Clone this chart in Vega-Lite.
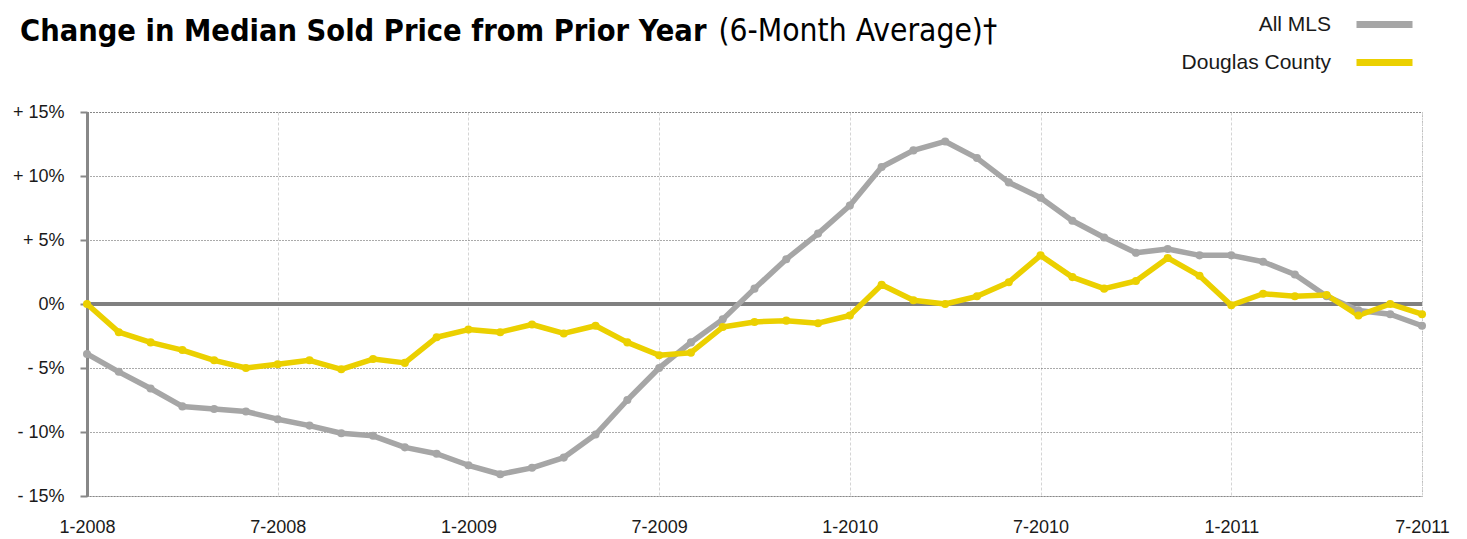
{
  "$schema": "https://vega.github.io/schema/vega-lite/v6.json",
  "width": 1335,
  "height": 384,
  "autosize": {"type": "none"},
  "padding": {"left": 87, "top": 112, "right": 45, "bottom": 43},
  "background": "white",
  "title": {
    "text": "Change in Median Sold Price from Prior Year",
    "anchor": "start",
    "frame": "group",
    "font": "DejaVu Sans Condensed, Liberation Sans Narrow, sans-serif",
    "fontWeight": "bold",
    "fontSize": 30.5,
    "color": "#000",
    "baseline": "alphabetic",
    "dx": -67,
    "offset": -64
  },
  "config": {
    "view": {"stroke": "#777", "strokeDash": [1, 2], "strokeWidth": 1},
    "font": "Liberation Sans"
  },
  "data": {
    "values": [
      {"m":"1-2008","s":"All MLS","v":-3.9},{"m":"2-2008","s":"All MLS","v":-5.3},{"m":"3-2008","s":"All MLS","v":-6.6},{"m":"4-2008","s":"All MLS","v":-8.0},{"m":"5-2008","s":"All MLS","v":-8.2},{"m":"6-2008","s":"All MLS","v":-8.4},{"m":"7-2008","s":"All MLS","v":-9.0},{"m":"8-2008","s":"All MLS","v":-9.5},{"m":"9-2008","s":"All MLS","v":-10.1},{"m":"10-2008","s":"All MLS","v":-10.3},{"m":"11-2008","s":"All MLS","v":-11.2},{"m":"12-2008","s":"All MLS","v":-11.7},
      {"m":"1-2009","s":"All MLS","v":-12.6},{"m":"2-2009","s":"All MLS","v":-13.3},{"m":"3-2009","s":"All MLS","v":-12.8},{"m":"4-2009","s":"All MLS","v":-12.0},{"m":"5-2009","s":"All MLS","v":-10.2},{"m":"6-2009","s":"All MLS","v":-7.5},{"m":"7-2009","s":"All MLS","v":-5.0},{"m":"8-2009","s":"All MLS","v":-3.0},{"m":"9-2009","s":"All MLS","v":-1.2},{"m":"10-2009","s":"All MLS","v":1.2},{"m":"11-2009","s":"All MLS","v":3.5},{"m":"12-2009","s":"All MLS","v":5.5},
      {"m":"1-2010","s":"All MLS","v":7.7},{"m":"2-2010","s":"All MLS","v":10.7},{"m":"3-2010","s":"All MLS","v":12.0},{"m":"4-2010","s":"All MLS","v":12.7},{"m":"5-2010","s":"All MLS","v":11.4},{"m":"6-2010","s":"All MLS","v":9.5},{"m":"7-2010","s":"All MLS","v":8.3},{"m":"8-2010","s":"All MLS","v":6.5},{"m":"9-2010","s":"All MLS","v":5.2},{"m":"10-2010","s":"All MLS","v":4.0},{"m":"11-2010","s":"All MLS","v":4.3},{"m":"12-2010","s":"All MLS","v":3.8},
      {"m":"1-2011","s":"All MLS","v":3.8},{"m":"2-2011","s":"All MLS","v":3.3},{"m":"3-2011","s":"All MLS","v":2.3},{"m":"4-2011","s":"All MLS","v":0.6},{"m":"5-2011","s":"All MLS","v":-0.5},{"m":"6-2011","s":"All MLS","v":-0.8},{"m":"7-2011","s":"All MLS","v":-1.7},
      {"m":"1-2008","s":"Douglas County","v":0.0},{"m":"2-2008","s":"Douglas County","v":-2.2},{"m":"3-2008","s":"Douglas County","v":-3.0},{"m":"4-2008","s":"Douglas County","v":-3.6},{"m":"5-2008","s":"Douglas County","v":-4.4},{"m":"6-2008","s":"Douglas County","v":-5.0},{"m":"7-2008","s":"Douglas County","v":-4.7},{"m":"8-2008","s":"Douglas County","v":-4.4},{"m":"9-2008","s":"Douglas County","v":-5.1},{"m":"10-2008","s":"Douglas County","v":-4.3},{"m":"11-2008","s":"Douglas County","v":-4.6},{"m":"12-2008","s":"Douglas County","v":-2.6},
      {"m":"1-2009","s":"Douglas County","v":-2.0},{"m":"2-2009","s":"Douglas County","v":-2.2},{"m":"3-2009","s":"Douglas County","v":-1.6},{"m":"4-2009","s":"Douglas County","v":-2.3},{"m":"5-2009","s":"Douglas County","v":-1.7},{"m":"6-2009","s":"Douglas County","v":-3.0},{"m":"7-2009","s":"Douglas County","v":-4.0},{"m":"8-2009","s":"Douglas County","v":-3.8},{"m":"9-2009","s":"Douglas County","v":-1.8},{"m":"10-2009","s":"Douglas County","v":-1.4},{"m":"11-2009","s":"Douglas County","v":-1.3},{"m":"12-2009","s":"Douglas County","v":-1.5},
      {"m":"1-2010","s":"Douglas County","v":-0.9},{"m":"2-2010","s":"Douglas County","v":1.5},{"m":"3-2010","s":"Douglas County","v":0.3},{"m":"4-2010","s":"Douglas County","v":0.0},{"m":"5-2010","s":"Douglas County","v":0.6},{"m":"6-2010","s":"Douglas County","v":1.7},{"m":"7-2010","s":"Douglas County","v":3.8},{"m":"8-2010","s":"Douglas County","v":2.1},{"m":"9-2010","s":"Douglas County","v":1.2},{"m":"10-2010","s":"Douglas County","v":1.8},{"m":"11-2010","s":"Douglas County","v":3.6},{"m":"12-2010","s":"Douglas County","v":2.2},
      {"m":"1-2011","s":"Douglas County","v":-0.1},{"m":"2-2011","s":"Douglas County","v":0.8},{"m":"3-2011","s":"Douglas County","v":0.6},{"m":"4-2011","s":"Douglas County","v":0.7},{"m":"5-2011","s":"Douglas County","v":-0.9},{"m":"6-2011","s":"Douglas County","v":0.0},{"m":"7-2011","s":"Douglas County","v":-0.8}
    ]
  },
  "encoding": {
    "x": {
      "field": "m",
      "type": "ordinal",
      "sort": null,
      "scale": {"type": "point", "padding": 0},
      "axis": {
        "title": null,
        "values": ["1-2008","7-2008","1-2009","7-2009","1-2010","7-2010","1-2011","7-2011"],
        "labelAngle": 0,
        "domain": false,
        "ticks": false,
        "grid": true,
        "gridColor": "#d4d4d4",
        "gridDash": [3, 2],
        "gridWidth": 1,
        "labelFont": "Liberation Sans",
        "labelFontSize": 18,
        "labelColor": "#1a1a1a",
        "labelPadding": 22
      }
    },
    "y": {
      "field": "v",
      "type": "quantitative",
      "scale": {"domain": [-15, 15], "nice": false, "zero": false},
      "axis": {
        "values": [-15, -10, -5, 0, 5, 10, 15],
        "labelExpr": "datum.value > 0 ? '+ ' + datum.value + '%' : (datum.value < 0 ? '- ' + abs(datum.value) + '%' : '0%')",
        "title": "(6-Month Average)†",
        "titleAngle": 0,
        "titleX": 631,
        "titleY": -72,
        "titleAlign": "left",
        "titleBaseline": "alphabetic",
        "titleFont": "DejaVu Sans Condensed, Liberation Sans Narrow, sans-serif",
        "titleFontWeight": "normal",
        "titleFontSize": 31.5,
        "titleColor": "#000",
        "domainColor": "#888",
        "domainWidth": 3,
        "tickColor": "#888",
        "tickWidth": 2,
        "tickSize": 7,
        "grid": true,
        "gridColor": "#555",
        "gridDash": [1, 2],
        "gridWidth": 1,
        "labelFont": "Liberation Sans",
        "labelFontSize": 18,
        "labelColor": "#1a1a1a",
        "labelPadding": 16
      }
    }
  },
  "layer": [
    {
      "mark": {"type": "rule", "color": "#808080", "strokeWidth": 3.5},
      "encoding": {"y": {"datum": 0}, "x": null}
    },
    {
      "mark": {"type": "line", "strokeWidth": 5.5, "strokeJoin": "round", "point": {"filled": true, "size": 65}},
      "encoding": {
        "color": {
          "field": "s",
          "type": "nominal",
          "scale": {"domain": ["All MLS", "Douglas County"], "range": ["#a6a6a6", "#ebd000"]},
          "legend": {
            "title": null,
            "orient": "none",
            "legendX": 1280,
            "legendY": -105,
            "symbolType": "M-2,0H2",
            "symbolSize": 784,
            "symbolStrokeWidth": 7,
            "labelAlign": "right",
            "labelOffset": -71,
            "labelFont": "Liberation Sans",
            "labelFontSize": 21,
            "labelColor": "#1a1a1a",
            "rowPadding": 6
          }
        }
      }
    }
  ]
}
